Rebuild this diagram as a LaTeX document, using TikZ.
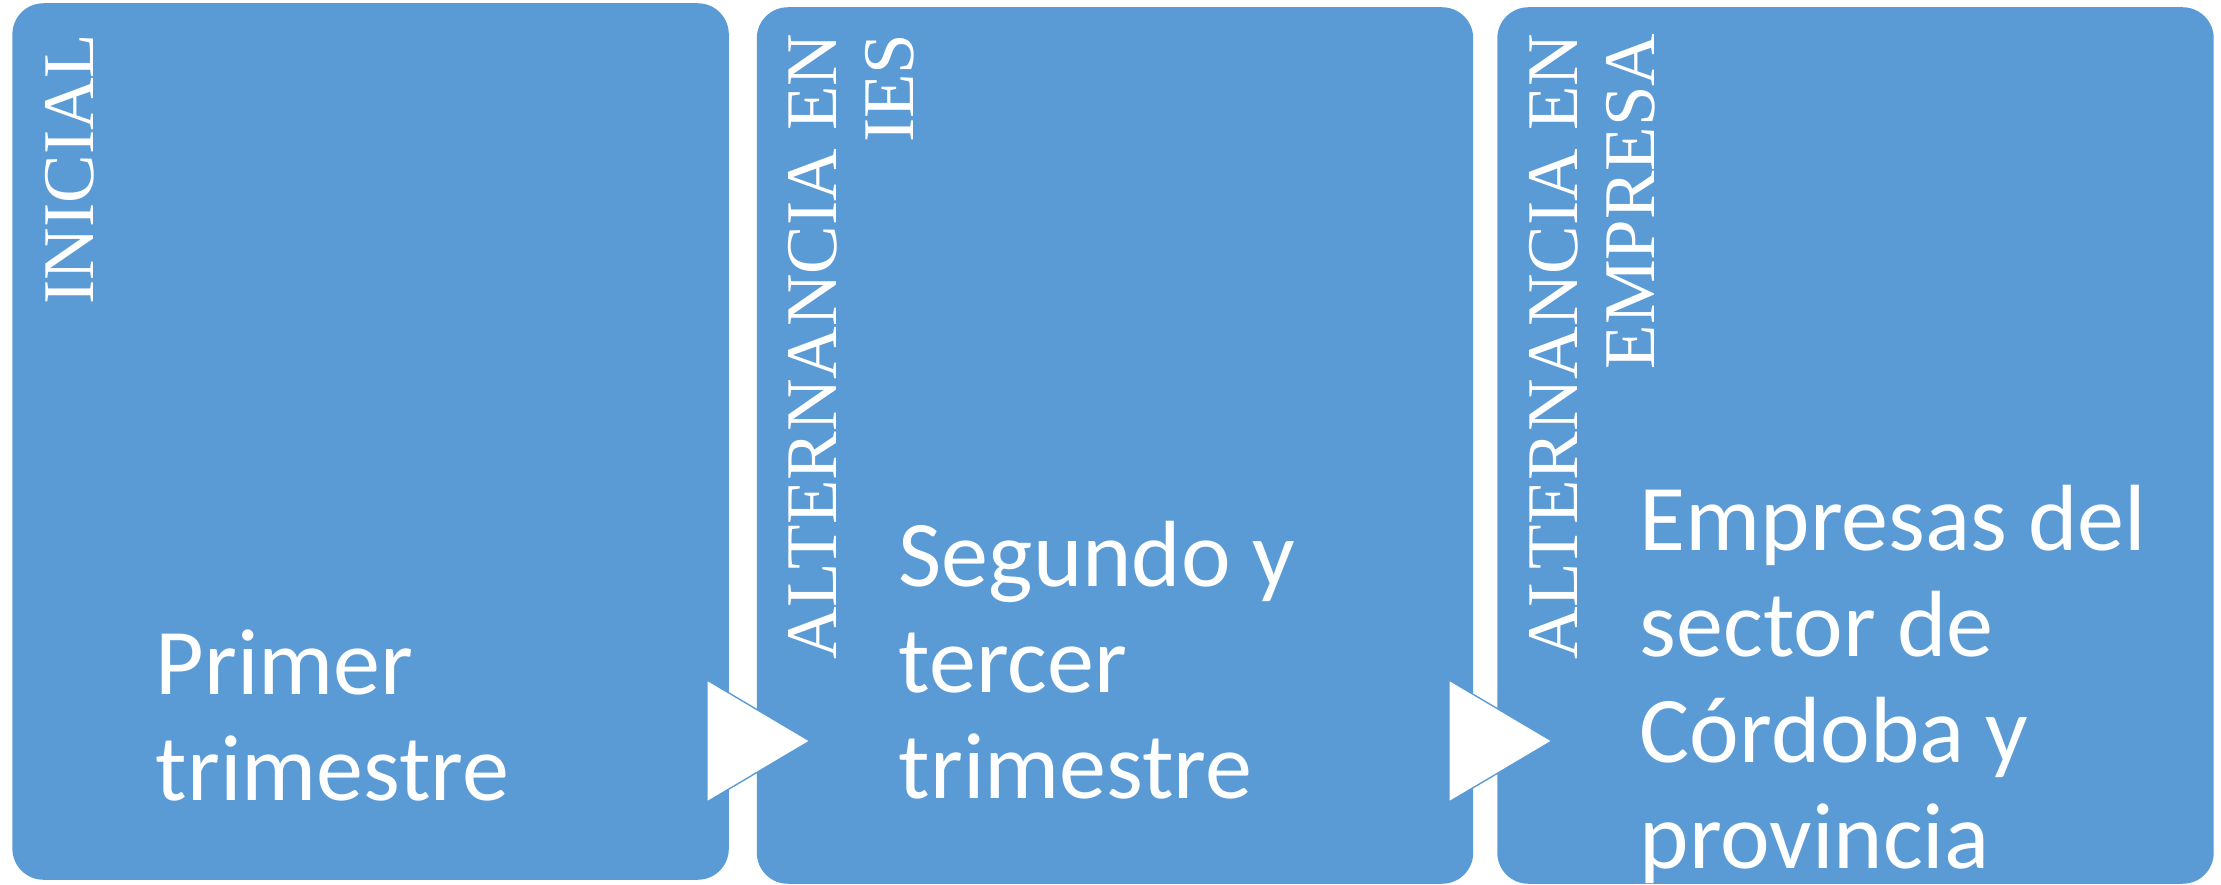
\documentclass[tikz,border=0pt]{standalone}
\usepackage{fontspec}
\setmainfont{Carlito}
\newfontfamily\serifa{Liberation Serif}
\definecolor{azulcaja}{HTML}{5B9BD5}
\tikzset{
  caja/.style={fill=azulcaja, rounded corners=3.1mm, minimum width=7.16cm, minimum height=8.76cm, inner sep=0pt},
  etapa/.style={rotate=90, anchor=base east, align=right, inner sep=0pt, text=white, font={\serifa\fontsize{20.7pt}{21.8pt}\selectfont}},
  texto/.style={anchor=base west, align=left, inner sep=0pt, text=white, font={\fontsize{26.75pt}{30.07pt}\selectfont}},
  flecha/.style={fill=white, draw=azulcaja, line width=0.4pt}
}
\begin{document}
\begin{tikzpicture}[x=0.01cm, y=-0.01cm]
\useasboundingbox (0,0) rectangle (2221,885);
% cajas
\node[caja] (inicial) at (370.6,441.5) {};
\node[caja] (ies) at (1115,445.5) {};
\node[caja] (empresa) at (1855.5,445.5) {};
% flechas entre cajas
\foreach \x in {707,1449}
  \filldraw[flecha] (\x,680) -- ++(103,61) -- ++(-103,61) -- cycle;
% titulos verticales (base = ultima linea)
\node[etapa] (t1) at (93,33) {INICIAL};
\node[etapa] (t2) at (913.5,33) {ALTERNANCIA EN\\IES};
\node[etapa] (t3) at (1654,33) {ALTERNANCIA EN\\EMPRESA};
% textos (base = ultima linea)
\node[texto] (x1) at (155,800) {Primer\\trimestre};
\node[texto] (x2) at (898,798) {Segundo y\\tercer\\trimestre};
\node[texto] (x3) at (1639,868) {Empresas del\\sector de\\Córdoba y\\provincia};
\end{tikzpicture}
\end{document}
